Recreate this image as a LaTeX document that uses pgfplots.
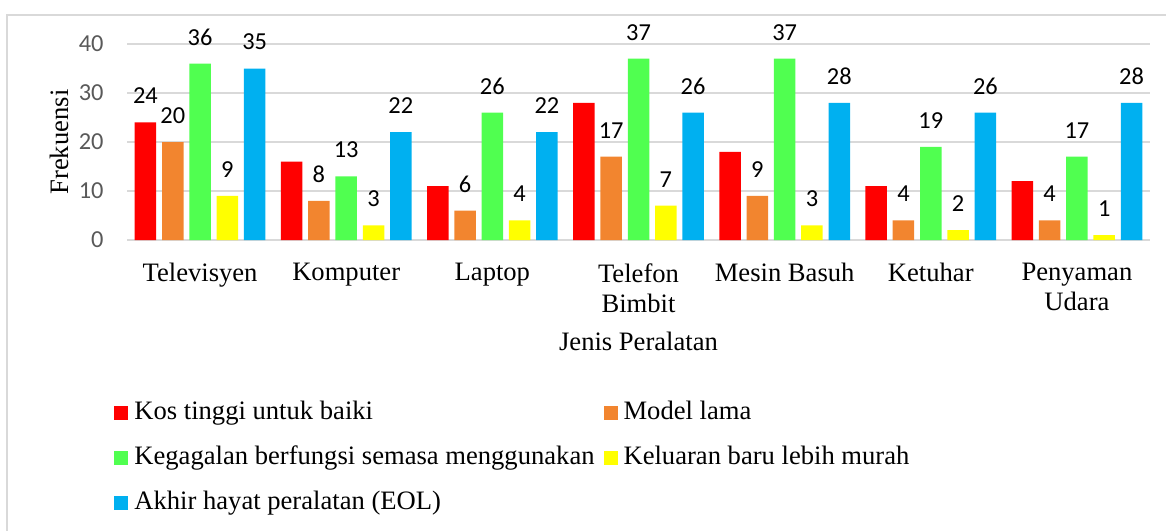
\documentclass[border=0pt]{standalone}
\usepackage{fontspec}
\setmainfont{Liberation Serif}
\newfontfamily\carlito{Carlito}
\usepackage{pgfplots}
\pgfplotsset{compat=1.18}
\definecolor{cRed}{HTML}{FF0000}
\definecolor{cOrange}{HTML}{F2852F}
\definecolor{cGreen}{HTML}{50FF50}
\definecolor{cYellow}{HTML}{FFFF00}
\definecolor{cBlue}{HTML}{00B0F0}
\definecolor{gridgray}{HTML}{D9D9D9}
\definecolor{tickgray}{HTML}{595959}
\begin{document}
\begin{tikzpicture}
\useasboundingbox (0,0) rectangle (583pt,-265pt);
\draw[color=gridgray, line width=0.75pt] (3.5pt,-266pt) -- (3.5pt,-7.5pt) -- (584pt,-7.5pt);
\begin{axis}[
  at={(63.5pt,-120pt)}, anchor=south west,
  scale only axis, width=511.5pt, height=98pt,
  xmin=-0.5, xmax=6.5, ymin=0, ymax=40,
  ytick={0,10,20,30,40},
  xtick={0,1,2,3,4,5,6},
  xticklabels={Televisyen, Komputer, Laptop, {Telefon\\Bimbit}, Mesin Basuh, Ketuhar, {Penyaman\\Udara}},
  xticklabel style={anchor=north, inner sep=0pt, yshift=-11.5pt, align=center, font=\fontsize{13.3}{15}\selectfont},
  yticklabel style={anchor=east, inner sep=0pt, xshift=-11.5pt, font=\carlito\fontsize{12.2}{14}\selectfont, text=tickgray},
  /pgf/number format/assume math mode=true,
  major tick length=0pt,
  axis line style={draw=none},
  ymajorgrids, grid style={color=gridgray, line width=0.75pt},
  ybar=2.9pt, bar width=10.75pt,
  every node near coord/.append style={anchor=base, inner sep=0pt, yshift=9.3pt, font=\carlito\fontsize{12.2}{14}\selectfont, text=black},
  ylabel={Frekuensi},
  ylabel style={at={(axis description cs:-0.05767,0.5)}, anchor=base, font=\fontsize{13.3}{15}\selectfont},
  xlabel={Jenis Peralatan},
  xlabel style={at={(axis description cs:0.5,-0.5612)}, anchor=base, font=\fontsize{13.3}{15}\selectfont},
  legend columns=2,
  legend cell align=left,
  legend image code/.code={\fill[#1, draw=none] (0pt,-3.5pt) rectangle (7pt,3.5pt);},
  legend style={at={(axis description cs:-0.0127,-0.8163)}, anchor=north west, draw=none, fill=none, inner sep=0pt,
    column sep=3pt, row sep=10pt, font=\fontsize{13.3}{15}\selectfont,
    nodes={inner sep=0pt, text height=9.5pt, text depth=3pt},
    /tikz/every even column/.append style={column sep=4.5pt}},
]
\addplot[fill=cRed, draw=none, point meta=explicit symbolic, nodes near coords]
  coordinates {(0,24)[24] (1,16)[{}] (2,11)[{}] (3,28)[{}] (4,18)[{}] (5,11)[{}] (6,12)[{}]};
\addplot[fill=cOrange, draw=none, point meta=y, nodes near coords]
  coordinates {(0,20) (1,8) (2,6) (3,17) (4,9) (5,4) (6,4)};
\addplot[fill=cGreen, draw=none, point meta=y, nodes near coords]
  coordinates {(0,36) (1,13) (2,26) (3,37) (4,37) (5,19) (6,17)};
\addplot[fill=cYellow, draw=none, point meta=y, nodes near coords]
  coordinates {(0,9) (1,3) (2,4) (3,7) (4,3) (5,2) (6,1)};
\addplot[fill=cBlue, draw=none, point meta=y, nodes near coords]
  coordinates {(0,35) (1,22) (2,22) (3,26) (4,28) (5,26) (6,28)};
\legend{Kos tinggi untuk baiki, Model lama, Kegagalan berfungsi semasa menggunakan, Keluaran baru lebih murah, Akhir hayat peralatan (EOL)}
\end{axis}
\end{tikzpicture}
\end{document}
